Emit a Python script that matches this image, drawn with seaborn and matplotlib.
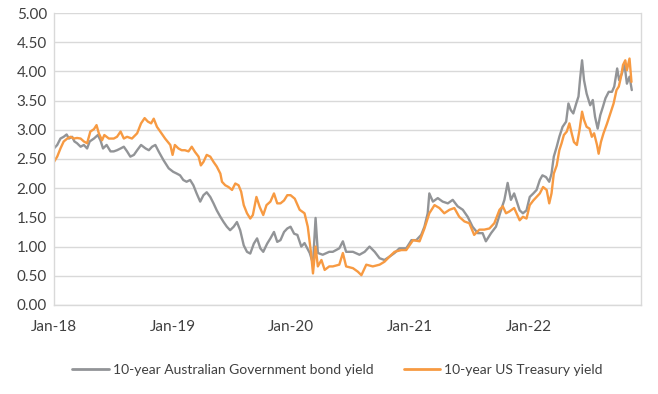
import pandas as pd
import seaborn as sns
import matplotlib.pyplot as plt
import matplotlib.dates as mdates

AU_LABEL = "10-year Australian Government bond yield"
US_LABEL = "10-year US Treasury yield"

# values (roughly every 1-3 weeks)
au_dates = [
    "2018-01-01", "2018-01-11", "2018-01-21", "2018-01-31", "2018-02-09", "2018-02-16",
    "2018-02-26", "2018-03-05", "2018-03-13", "2018-03-24", "2018-04-03", "2018-04-13",
    "2018-04-21", "2018-05-04", "2018-05-16", "2018-05-24", "2018-06-01", "2018-06-12",
    "2018-06-24", "2018-07-04", "2018-07-14", "2018-07-25", "2018-08-04", "2018-08-14",
    "2018-08-24", "2018-09-04", "2018-09-14", "2018-09-26", "2018-10-10", "2018-10-20",
    "2018-10-30", "2018-11-09", "2018-11-19", "2018-12-04", "2018-12-20", "2019-01-03",
    "2019-01-14", "2019-01-24", "2019-02-03", "2019-02-13", "2019-02-24", "2019-03-06",
    "2019-03-16", "2019-03-27", "2019-04-06", "2019-04-16", "2019-04-27", "2019-05-07",
    "2019-05-17", "2019-05-28", "2019-06-07", "2019-06-17", "2019-06-27", "2019-07-08",
    "2019-07-18", "2019-07-28", "2019-08-08", "2019-08-18", "2019-08-28", "2019-09-08",
    "2019-09-18", "2019-09-28", "2019-10-07", "2019-10-19", "2019-10-29", "2019-11-09",
    "2019-11-19", "2019-11-29", "2019-12-10", "2019-12-20", "2019-12-30", "2020-01-10",
    "2020-01-20", "2020-02-01", "2020-02-11", "2020-02-27", "2020-03-08", "2020-03-16",
    "2020-03-23", "2020-04-07", "2020-04-27", "2020-05-08", "2020-05-28", "2020-06-08",
    "2020-06-18", "2020-07-09", "2020-07-29", "2020-08-14", "2020-08-29", "2020-09-14",
    "2020-09-29", "2020-10-14", "2020-10-30", "2020-11-14", "2020-11-29", "2020-12-20",
    "2021-01-05", "2021-01-20", "2021-02-04", "2021-02-14", "2021-02-24", "2021-03-01",
    "2021-03-12", "2021-03-27", "2021-04-11", "2021-04-27", "2021-05-12", "2021-05-27",
    "2021-06-12", "2021-06-27", "2021-07-12", "2021-07-28", "2021-08-12", "2021-08-22",
    "2021-09-07", "2021-09-22", "2021-10-08", "2021-10-18", "2021-10-28", "2021-11-07",
    "2021-11-17", "2021-12-04", "2021-12-14", "2021-12-25", "2022-01-04", "2022-01-15",
    "2022-01-25", "2022-02-04", "2022-02-12", "2022-02-23", "2022-03-05", "2022-03-12",
    "2022-03-19", "2022-03-28", "2022-04-05", "2022-04-15", "2022-04-26", "2022-05-03",
    "2022-05-10", "2022-05-18", "2022-05-27", "2022-06-03", "2022-06-08", "2022-06-14",
    "2022-06-20", "2022-06-28", "2022-07-09", "2022-07-17", "2022-07-24", "2022-08-01",
    "2022-08-09", "2022-08-17", "2022-08-25", "2022-09-04", "2022-09-14", "2022-09-21",
    "2022-09-30", "2022-10-06", "2022-10-15", "2022-10-22", "2022-10-30", "2022-11-07",
    "2022-11-14",
]
au_yield = [
    2.68, 2.74, 2.85, 2.88, 2.92, 2.85,
    2.88, 2.80, 2.77, 2.71, 2.74, 2.68,
    2.80, 2.85, 2.91, 2.82, 2.68, 2.74,
    2.63, 2.63, 2.65, 2.68, 2.71, 2.63,
    2.54, 2.57, 2.65, 2.74, 2.68, 2.65,
    2.71, 2.74, 2.63, 2.48, 2.34, 2.28,
    2.25, 2.22, 2.14, 2.11, 2.14, 2.05,
    1.91, 1.77, 1.88, 1.93, 1.85, 1.74,
    1.62, 1.51, 1.42, 1.34, 1.28, 1.34,
    1.42, 1.28, 1.02, 0.91, 0.88, 1.05,
    1.14, 0.97, 0.91, 1.05, 1.14, 1.25,
    1.08, 1.11, 1.25, 1.31, 1.34, 1.22,
    1.20, 1.00, 1.06, 0.89, 0.71, 1.49,
    0.89, 0.86, 0.91, 0.91, 0.97, 1.09,
    0.91, 0.91, 0.86, 0.91, 1.00, 0.91,
    0.80, 0.77, 0.83, 0.89, 0.97, 0.97,
    1.11, 1.11, 1.20, 1.34, 1.57, 1.91,
    1.77, 1.83, 1.77, 1.74, 1.80, 1.69,
    1.63, 1.51, 1.34, 1.23, 1.23, 1.09,
    1.23, 1.34, 1.63, 1.80, 2.09, 1.80,
    1.91, 1.62, 1.57, 1.62, 1.85, 1.91,
    1.97, 2.14, 2.22, 2.19, 2.11, 2.25,
    2.54, 2.71, 2.88, 3.05, 3.14, 3.45,
    3.34, 3.28, 3.45, 3.57, 3.88, 4.19,
    3.85, 3.62, 3.42, 3.51, 3.22, 3.02,
    3.25, 3.39, 3.54, 3.65, 3.65, 3.74,
    4.05, 3.85, 3.97, 4.14, 3.79, 3.91,
    3.68,
]

us_dates = [
    "2018-01-01", "2018-01-11", "2018-01-21", "2018-01-31", "2018-02-11", "2018-02-21",
    "2018-03-03", "2018-03-13", "2018-03-24", "2018-04-03", "2018-04-13", "2018-04-23",
    "2018-05-04", "2018-05-12", "2018-05-19", "2018-05-29", "2018-06-05", "2018-06-19",
    "2018-07-04", "2018-07-14", "2018-07-25", "2018-08-04", "2018-08-14", "2018-08-29",
    "2018-09-14", "2018-09-26", "2018-10-07", "2018-10-17", "2018-10-27", "2018-11-04",
    "2018-11-14", "2018-11-24", "2018-12-09", "2018-12-25", "2019-01-01", "2019-01-08",
    "2019-01-19", "2019-01-29", "2019-02-08", "2019-02-19", "2019-03-01", "2019-03-11",
    "2019-03-22", "2019-03-29", "2019-04-06", "2019-04-16", "2019-04-27", "2019-05-07",
    "2019-05-17", "2019-05-28", "2019-06-02", "2019-06-12", "2019-06-22", "2019-07-03",
    "2019-07-13", "2019-07-23", "2019-07-31", "2019-08-08", "2019-08-18", "2019-08-28",
    "2019-09-05", "2019-09-16", "2019-09-26", "2019-10-07", "2019-10-17", "2019-10-29",
    "2019-11-09", "2019-11-19", "2019-11-29", "2019-12-10", "2019-12-20", "2019-12-30",
    "2020-01-12", "2020-01-27", "2020-02-11", "2020-02-21", "2020-03-02", "2020-03-08",
    "2020-03-16", "2020-03-23", "2020-04-03", "2020-04-13", "2020-04-27", "2020-05-08",
    "2020-05-28", "2020-06-08", "2020-06-18", "2020-07-09", "2020-07-24", "2020-08-04",
    "2020-08-19", "2020-09-08", "2020-09-29", "2020-10-14", "2020-10-30", "2020-11-14",
    "2020-12-05", "2020-12-20", "2021-01-10", "2021-01-30", "2021-02-14", "2021-03-01",
    "2021-03-17", "2021-04-01", "2021-04-16", "2021-05-02", "2021-05-17", "2021-06-01",
    "2021-06-17", "2021-07-02", "2021-07-17", "2021-08-02", "2021-08-17", "2021-09-02",
    "2021-09-17", "2021-10-03", "2021-10-13", "2021-10-23", "2021-11-02", "2021-11-17",
    "2021-12-04", "2021-12-14", "2021-12-25", "2022-01-04", "2022-01-15", "2022-01-25",
    "2022-02-04", "2022-02-14", "2022-02-25", "2022-03-05", "2022-03-12", "2022-03-19",
    "2022-03-28", "2022-04-05", "2022-04-12", "2022-04-19", "2022-04-28", "2022-05-06",
    "2022-05-13", "2022-05-20", "2022-05-29", "2022-06-06", "2022-06-14", "2022-06-20",
    "2022-06-28", "2022-07-07", "2022-07-14", "2022-07-21", "2022-07-30", "2022-08-04",
    "2022-08-11", "2022-08-19", "2022-08-30", "2022-09-09", "2022-09-19", "2022-09-28",
    "2022-10-05", "2022-10-12", "2022-10-18", "2022-10-25", "2022-10-30", "2022-11-07",
    "2022-11-13",
]
us_yield = [
    2.45, 2.54, 2.68, 2.80, 2.85, 2.88,
    2.85, 2.86, 2.85, 2.80, 2.77, 2.97,
    3.01, 3.08, 2.94, 2.82, 2.91, 2.85,
    2.85, 2.88, 2.97, 2.85, 2.88, 2.85,
    2.94, 3.11, 3.20, 3.14, 3.11, 3.19,
    3.05, 2.97, 2.85, 2.74, 2.57, 2.74,
    2.68, 2.65, 2.65, 2.63, 2.71, 2.62,
    2.54, 2.39, 2.45, 2.57, 2.54, 2.45,
    2.37, 2.25, 2.11, 2.05, 2.02, 1.97,
    2.08, 2.05, 1.94, 1.71, 1.57, 1.48,
    1.54, 1.85, 1.68, 1.54, 1.71, 1.77,
    1.91, 1.74, 1.74, 1.79, 1.88, 1.88,
    1.82, 1.63, 1.57, 1.34, 0.89, 0.54,
    1.00, 0.66, 0.77, 0.60, 0.66, 0.66,
    0.69, 0.89, 0.66, 0.63, 0.57, 0.51,
    0.69, 0.66, 0.69, 0.74, 0.83, 0.91,
    0.94, 0.94, 1.11, 1.09, 1.31, 1.57,
    1.71, 1.66, 1.57, 1.63, 1.66, 1.51,
    1.43, 1.40, 1.20, 1.29, 1.29, 1.31,
    1.40, 1.63, 1.69, 1.57, 1.60, 1.66,
    1.45, 1.51, 1.48, 1.71, 1.79, 1.85,
    1.91, 2.02, 1.97, 1.74, 1.91, 2.25,
    2.39, 2.65, 2.77, 2.91, 2.97, 3.11,
    2.94, 2.79, 2.74, 2.99, 3.31, 3.17,
    3.05, 3.02, 2.88, 2.94, 2.74, 2.59,
    2.79, 2.94, 3.11, 3.28, 3.45, 3.68,
    3.74, 3.91, 4.11, 4.19, 4.02, 4.22,
    3.82,
]

df = pd.concat([
    pd.DataFrame({"date": pd.to_datetime(au_dates), "yield": au_yield, "series": AU_LABEL}),
    pd.DataFrame({"date": pd.to_datetime(us_dates), "yield": us_yield, "series": US_LABEL}),
])

sns.set_style("white")
plt.rcParams["font.family"] = ["Lato", "DejaVu Sans"]

fig = plt.figure(figsize=(6.58, 3.94), dpi=100)
ax = fig.add_axes([0.082, 0.226, 0.892, 0.741])

palette = {AU_LABEL: "#929497", US_LABEL: "#F79A42"}
sns.lineplot(data=df, x="date", y="yield", hue="series", palette=palette,
             linewidth=1.7, ax=ax, legend=False)

ax.set_xlim(pd.Timestamp("2018-01-01"), pd.Timestamp("2022-12-12"))
ax.set_ylim(0, 5)
ax.set_yticks([i * 0.5 for i in range(11)])
ax.yaxis.set_major_formatter(plt.FuncFormatter(lambda v, _: f"{v:.2f}"))
ax.xaxis.set_major_locator(mdates.YearLocator())
ax.xaxis.set_major_formatter(mdates.DateFormatter("%b-%y"))
ax.set_xlabel("")
ax.set_ylabel("")

ax.grid(axis="y", color="#D9D9D9", linewidth=1)
ax.set_axisbelow(True)
for side in ["left", "right", "bottom"]:
    ax.spines[side].set_color("#D9D9D9")
    ax.spines[side].set_linewidth(1)
ax.spines["top"].set_visible(False)
ax.tick_params(axis="x", colors="#D9D9D9", length=5, width=1, labelcolor="#404040",
               labelsize=11, pad=6)
ax.tick_params(axis="y", length=0, labelcolor="#404040", labelsize=11, pad=5)

handles = [plt.Line2D([], [], color=palette[k], linewidth=2) for k in [AU_LABEL, US_LABEL]]
fig.legend(handles, [AU_LABEL, US_LABEL], loc="center", bbox_to_anchor=(0.513, 0.061),
           ncol=2, frameon=False, fontsize=10, handlelength=2.6, handletextpad=0.3,
           columnspacing=2.2, labelcolor="#404040")

fig.savefig("out.png", dpi=100)
